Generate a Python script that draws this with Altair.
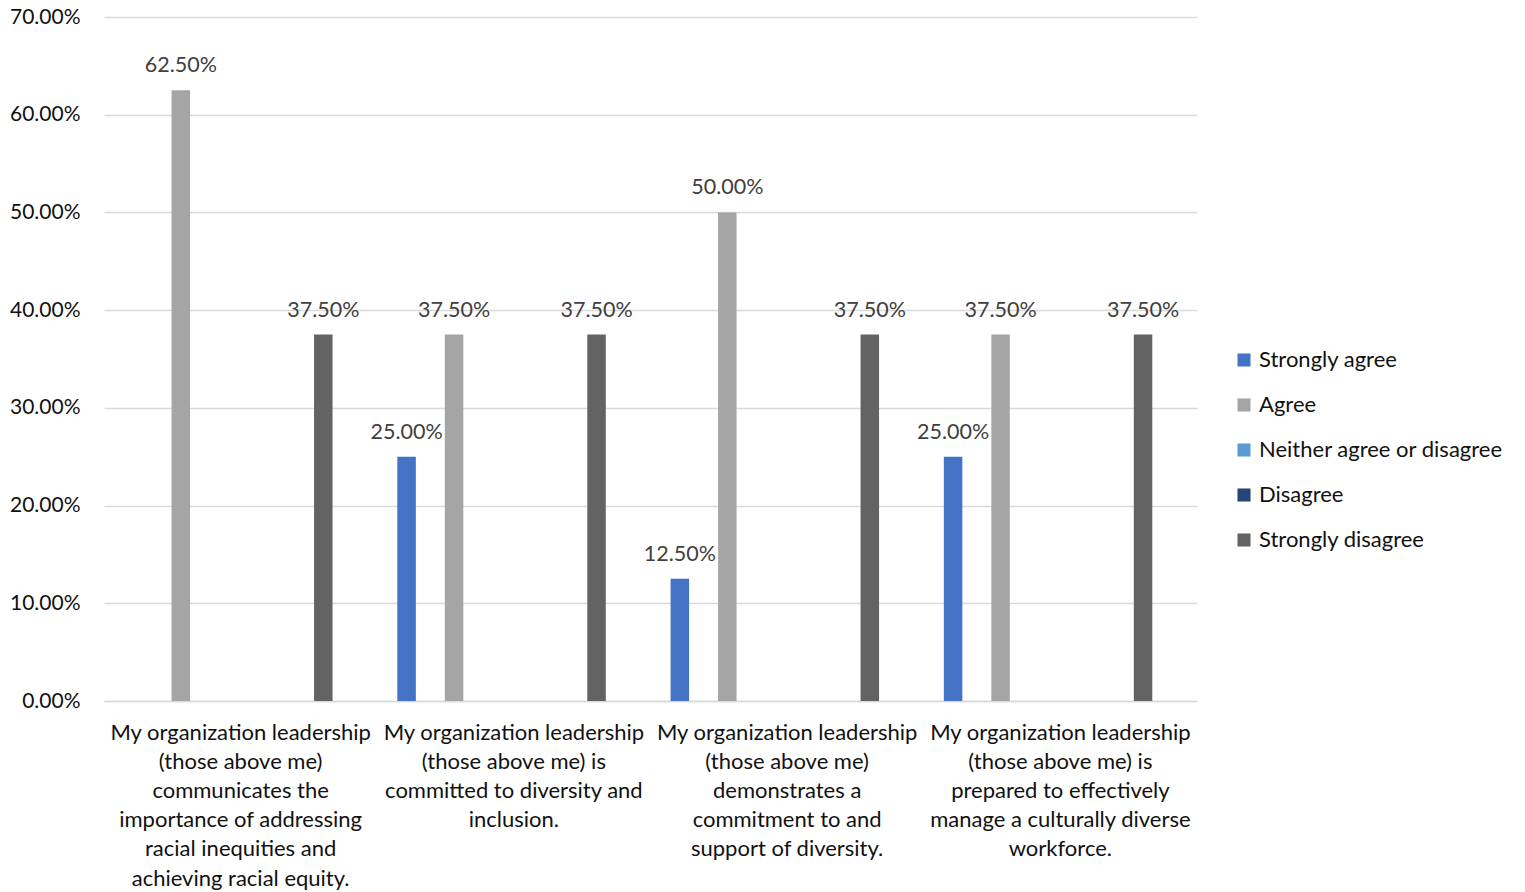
import altair as alt
import pandas as pd

categories = [
    "My organization leadership|(those above me)|communicates the|importance of addressing|racial inequities and|achieving racial equity.",
    "My organization leadership|(those above me) is|committed to diversity and|inclusion.",
    "My organization leadership|(those above me)|demonstrates a|commitment to and|support of diversity.",
    "My organization leadership|(those above me) is|prepared to effectively|manage a culturally diverse|workforce.",
]
series = ["Strongly agree", "Agree", "Neither agree or disagree", "Disagree", "Strongly disagree"]
colors = ["#4472C4", "#A5A5A5", "#5B9BD5", "#264478", "#636363"]

strongly_agree = [0.0, 0.25, 0.125, 0.25]
agree = [0.625, 0.375, 0.50, 0.375]
neither = [0.0, 0.0, 0.0, 0.0]
disagree = [0.0, 0.0, 0.0, 0.0]
strongly_disagree = [0.375, 0.375, 0.375, 0.375]

values_by_series = [strongly_agree, agree, neither, disagree, strongly_disagree]
rows = []
for s, vals in zip(series, values_by_series):
    for c, v in zip(categories, vals):
        rows.append({"category": c, "series": s, "value": v})
df = pd.DataFrame(rows)

FONT = "Lato"

x = alt.X(
    "category:N",
    sort=categories,
    scale=alt.Scale(domain=categories, paddingInner=0, paddingOuter=0),
    axis=alt.Axis(
        title=None,
        labelAngle=0,
        labelExpr="split(datum.label, '|')",
        labelFontSize=22,
        labelFont=FONT,
        labelColor="#111111",
        labelLineHeight=29.2,
        labelPadding=21,
        ticks=False,
        grid=False,
        domainColor="#D9D9D9",
        domainWidth=1.5,
        labelLimit=400,
    ),
)
xoff = alt.XOffset(
    "series:N",
    sort=series,
    scale=alt.Scale(domain=series, paddingInner=0.6105, paddingOuter=0.682, align=0.31),
)
y = alt.Y(
    "value:Q",
    scale=alt.Scale(domain=[0, 0.7], nice=False),
    axis=alt.Axis(
        title=None,
        format=".2%",
        values=[0, 0.1, 0.2, 0.3, 0.4, 0.5, 0.6, 0.7],
        labelFontSize=21,
        labelFont=FONT,
        labelColor="#111111",
        labelPadding=24,
        ticks=False,
        domain=False,
        gridColor="#D9D9D9",
        gridWidth=1.5,
    ),
)

base = alt.Chart(df).transform_filter("datum.value > 0")

bars = base.mark_bar().encode(
    x=x,
    xOffset=xoff,
    y=y,
    color=alt.Color(
        "series:N",
        sort=series,
        scale=alt.Scale(domain=series, range=colors),
        legend=alt.Legend(
            title=None,
            orient="none",
            legendX=1129,
            legendY=332,
            symbolType="square",
            symbolSize=170,
            symbolStrokeWidth=0,
            labelFontSize=22,
            labelFont=FONT,
            labelColor="#111111",
            labelLimit=400,
            rowPadding=23,
            labelOffset=4,
        ),
    ),
)

labels = base.mark_text(
    baseline="alphabetic", dy=-18, fontSize=21.5, font=FONT, color="#404040"
).encode(
    x=x,
    xOffset=xoff,
    y=y,
    text=alt.Text("value:Q", format=".2%"),
)

chart = (
    alt.layer(bars, labels)
    .properties(
        width=1093,
        height=684,
        autosize=alt.AutoSizeParams(type="none"),
        padding={"left": 104, "top": 17, "right": 328, "bottom": 191},
    )
    .configure(background="white")
    .configure_view(stroke=None, strokeWidth=0)
)

chart.save("out.html", embed_options={"renderer": "svg", "actions": False})
